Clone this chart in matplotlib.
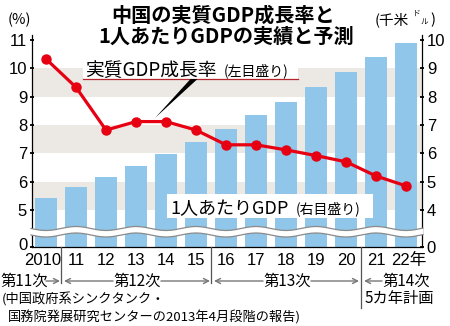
import numpy as np
import matplotlib
matplotlib.use('Agg')
import matplotlib.pyplot as plt
from matplotlib.patches import Rectangle, Polygon
import matplotlib.transforms as mtransforms

plt.rcParams['font.family'] = ['Noto Sans CJK JP', 'DejaVu Sans']
NUMFONT = ['Liberation Sans', 'Noto Sans CJK JP']

# データ
years = ['2010', '11', '12', '13', '14', '15', '16', '17', '18', '19', '20', '21', '22年']
gdp_growth = [10.33, 9.33, 7.82, 8.12, 8.12, 7.82, 7.3, 7.3, 7.12, 6.92, 6.7, 6.2, 5.85]   # 左目盛り(%)
gdp_per_capita = [4.43, 4.82, 5.16, 5.55, 5.98, 6.41, 6.86, 7.35, 7.82, 8.33, 8.88, 9.39, 9.91]  # 右目盛り(千ドル)
left_ticks = [5, 6, 7, 8, 9, 10, 11]
right_ticks = [4, 5, 6, 7, 8, 9, 10]
plans = ['第11次', '第12次', '第13次', '第14次']

RED = '#e60012'
BLUE = '#8fc6e9'
BAND = '#ece9e4'

W, H = 450, 326
fig = plt.figure(figsize=(W / 100, H / 100), dpi=100)


def fx(x):
    return x / W


def fy(y):
    return 1 - y / H


# 波線で省略した軸の底(0の位置)
R_BOT, R_TOP = 2.693, 10.176
L_BOT, L_TOP = R_BOT + 1, R_TOP + 1

ax = fig.add_axes([fx(32), fy(247), fx(422) - fx(32), fy(35) - fy(247)])
ax.set_xlim(-0.467, 12.533)
ax.set_ylim(R_BOT, R_TOP)
x = np.arange(len(years))

for lo in [4, 6, 8]:
    ax.axhspan(lo, lo + 1, color=BAND, lw=0, zorder=0)
ax.bar(x, np.array(gdp_per_capita) - R_BOT, bottom=R_BOT, width=0.73,
       color=BLUE, zorder=1)

ax2 = ax.twinx()
ax2.set_ylim(L_BOT, L_TOP)
ax2.plot(x, gdp_growth, color=RED, lw=2.3, marker='o', ms=6.5, zorder=5)

# 軸
ax.spines['top'].set_visible(False)
for s in ax2.spines:
    ax2.spines[s].set_visible(False)
for s in ['left', 'right', 'bottom']:
    ax.spines[s].set_linewidth(0.9)

ax.yaxis.tick_right()
ax.set_yticks([R_BOT] + right_ticks, ['0'] + [str(t) for t in right_ticks])
ax2.yaxis.tick_left()
ax2.set_yticks([L_BOT] + left_ticks, ['0'] + [str(t) for t in left_ticks])
ax.tick_params(axis='y', direction='inout', length=3, width=1.3, pad=2, labelsize=12)
ax2.tick_params(axis='y', direction='inout', length=3, width=1.3, pad=2, labelsize=12)
for lab in ax.get_yticklabels() + ax2.get_yticklabels():
    lab.set_family(NUMFONT)
# 左の「0」は横軸の2010と重ならないよう少し上へ
zero_lab = ax2.get_yticklabels()[0]
zero_lab.set_transform(zero_lab.get_transform() +
                       mtransforms.ScaledTranslation(0, 3.5 / 100, fig.dpi_scale_trans))
ax.set_xticks([])

# 横軸ラベル
tr = mtransforms.blended_transform_factory(ax.transData, ax.transAxes)
xpos = list(x.astype(float))
xpos[0] = -0.12
xpos[-1] = 12.1
for xp, lab in zip(xpos, years):
    ax.text(xp, -0.062, lab, transform=tr, ha='center', va='center', fontsize=12,
            family=NUMFONT)

# 波線(省略記号)
xs = np.linspace(31, 423, 300)
yu = 228.5 + 2.0 * np.sin(2 * np.pi * (xs - 31) / 60)
yl = yu + 6.5
pts = np.column_stack([np.concatenate([xs, xs[::-1]]), np.concatenate([yu, yl[::-1]])])
ax2.add_patch(Polygon([(fx(a), fy(b)) for a, b in pts], closed=True, transform=fig.transFigure,
                      facecolor='white', edgecolor='none', zorder=6, clip_on=False))
for yy in (yu, yl):
    ax2.plot(fx(xs), fy(yy), color='#8a8a8a', lw=0.9, transform=fig.transFigure,
             zorder=7, clip_on=False)

# タイトル・単位
fig.text(fx(223), fy(15), '中国の実質GDP成長率と', ha='center', va='center',
         fontsize=14.5, fontweight='bold')
fig.text(fx(226), fy(36), '1人あたりGDPの実績と予測', ha='center', va='center',
         fontsize=14.5, fontweight='bold')
fig.text(fx(19), fy(20), '(%)', ha='center', va='center', fontsize=10.5)
fig.text(fx(375), fy(20), '(千米', ha='left', va='center', fontsize=10.5)
fig.text(fx(413), fy(14), 'ド', ha='left', va='center', fontsize=5.5)
fig.text(fx(421), fy(22), 'ル', ha='left', va='center', fontsize=5.5)
fig.text(fx(430), fy(20), ')', ha='left', va='center', fontsize=10.5)

# 凡例ラベル(成長率)
fig.add_artist(Rectangle((fx(83), fy(79)), fx(298) - fx(83), fy(52) - fy(79),
                         transform=fig.transFigure, facecolor='white', edgecolor='none', zorder=3))
fig.add_artist(plt.Line2D([fx(83), fx(298)], [fy(79), fy(79)], color='#b3262e', lw=0.9, zorder=4))
fig.add_artist(Polygon([(fx(190.5), fy(79)), (fx(197.5), fy(79)), (fx(155), fy(118))],
                       closed=True, transform=fig.transFigure, facecolor='black', edgecolor='none', zorder=4))
fig.text(fx(85), fy(76), '実質GDP成長率', ha='left', va='baseline', fontsize=13.5, zorder=5)
fig.text(fx(224), fy(75), '(左目盛り)', ha='left', va='baseline', fontsize=10, zorder=5)

# 凡例ラベル(1人あたり)
fig.add_artist(Rectangle((fx(167), fy(218)), fx(373) - fx(167), fy(194) - fy(218),
                         transform=fig.transFigure, facecolor='white', edgecolor='none', zorder=3))
fig.text(fx(170), fy(214), '1人あたりGDP', ha='left', va='baseline', fontsize=13, zorder=5)
fig.text(fx(296), fy(213), '(右目盛り)', ha='left', va='baseline', fontsize=10, zorder=5)

# 5カ年計画の区切り
for xd, ybot in [(0.5, 283), (5.5, 283), (10.5, 308)]:
    xp = 32 + (xd + 0.467) * 30
    fig.add_artist(plt.Line2D([fx(xp), fx(xp)], [fy(247), fy(ybot)], color='#555555', lw=0.9))

arr = dict(arrowstyle='->', color='#777777', lw=1.0, shrinkA=0, shrinkB=0,
           mutation_scale=9)


def arrow(x0, x1, y=281):
    fig.add_artist(matplotlib.patches.FancyArrowPatch((fx(x0), fy(y)), (fx(x1), fy(y)),
                                                      transform=fig.transFigure, **arr))


ROW = 281
fig.text(fx(0), fy(ROW), plans[0], ha='left', va='center', fontsize=11)
arrow(46, 60)
arrow(113, 64)
fig.text(fx(137), fy(ROW), plans[1], ha='center', va='center', fontsize=11)
arrow(161, 210)
arrow(263, 214)
fig.text(fx(287), fy(ROW), plans[2], ha='center', va='center', fontsize=11)
arrow(311, 359)
arrow(382, 364)
fig.text(fx(382), fy(ROW), plans[3], ha='left', va='center', fontsize=11)
fig.text(fx(365), fy(299), '5カ年計画', ha='left', va='center', fontsize=11)

# 出典
fig.text(fx(2), fy(299), '(中国政府系シンクタンク・', ha='left', va='center', fontsize=9.5)
fig.text(fx(8), fy(317), '国務院発展研究センターの2013年4月段階の報告)', ha='left', va='center',
         fontsize=9.5)

fig.savefig('out.png', dpi=100)
